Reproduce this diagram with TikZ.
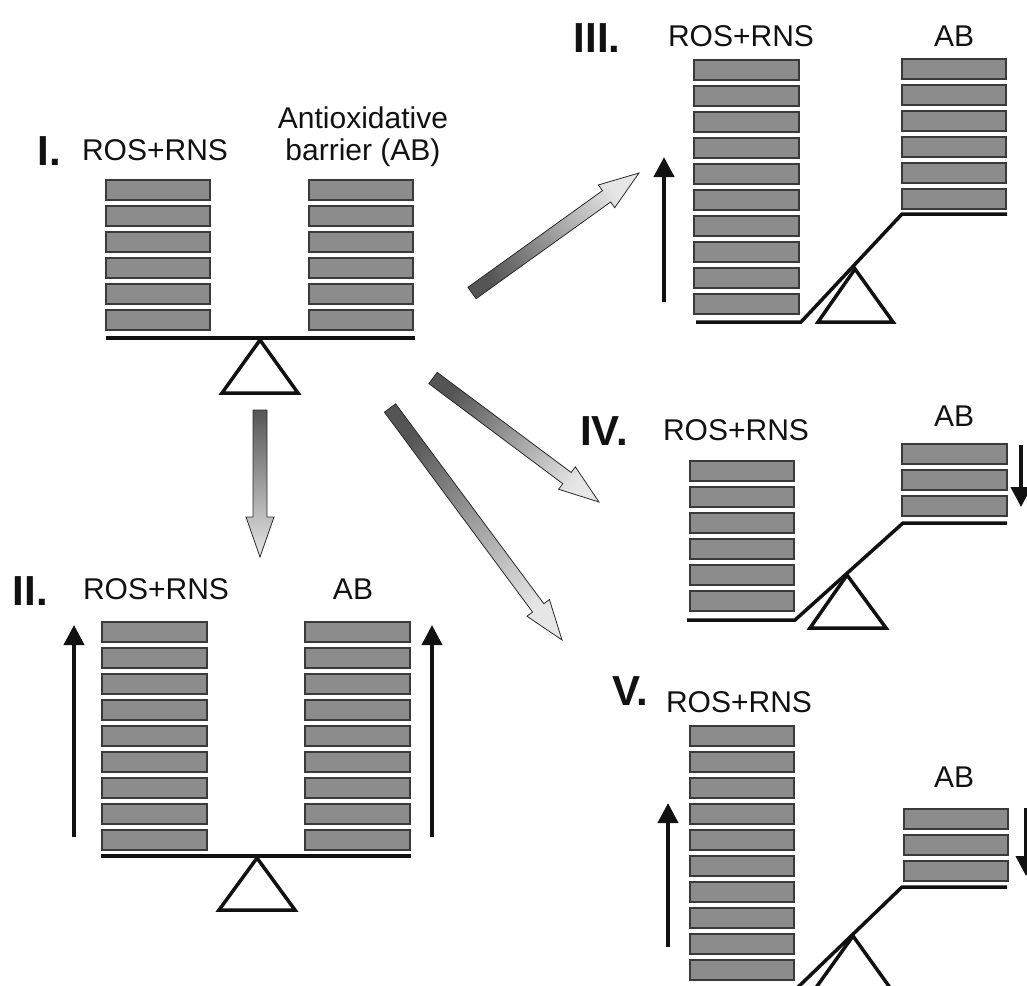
\documentclass[tikz,border=0pt]{standalone}
\usepackage{fontspec}
\setmainfont{Liberation Sans}
\usepackage{xcolor}
\usepackage{tikz}
\usetikzlibrary{arrows.meta, calc}
\definecolor{ink}{HTML}{111111}
\definecolor{barfill}{HTML}{8C8C8C}
\definecolor{barline}{HTML}{3A3A3A}
\definecolor{arrowdark}{HTML}{555555}
\definecolor{arrowlight}{HTML}{E6E6E6}
\definecolor{arrowline}{HTML}{2A2A2A}
\tikzset{
  barbox/.style={fill=barfill, draw=barline, line width=1.2pt},
  beam/.style={draw=ink, line width=3.5pt},
  pivot/.style={draw=ink, line width=3.5pt},
  riseline/.style={draw=ink, line width=4pt, -{Triangle[width=20pt,length=20pt]}},
  lbl/.style={font=\fontsize{30}{36}\selectfont, text=ink, anchor=base, inner sep=0pt},
  numlbl/.style={font=\fontsize{42}{48}\selectfont\bfseries, text=ink, anchor=base, inner sep=0pt},
  blockarrow/.style={draw=arrowline, line width=0.8pt, top color=arrowlight, bottom color=arrowdark, shading angle=#1},
}
\newcommand{\shadedarrow}[3]{%
  \coordinate (neck) at ($(#2)!40pt!(#1)$);
  \path[blockarrow=#3] ($(#1)!7pt!90:(#2)$) -- ($(neck)!7pt!90:(#2)$) -- ($(neck)!14pt!90:(#2)$) -- (#2)
    -- ($(neck)!14pt!-90:(#2)$) -- ($(neck)!7pt!-90:(#2)$) -- ($(#1)!7pt!-90:(#2)$) -- cycle;}

\begin{document}
\begin{tikzpicture}[x=1pt,y=-1pt]
\useasboundingbox (0,0) rectangle (1027,985);
\clip (0,0) rectangle (1027,985);

\node[numlbl, anchor=base east] (numI) at (61,165) {I.};
\node[lbl] (rosI) at (155,160) {ROS+RNS};
\node[lbl] (abIa) at (363,128) {Antioxidative};
\node[lbl] (abIb) at (363,160) {barrier (AB)};
\foreach \k in {0,...,5} {
  \draw[barbox] (106,{180+26*\k}) rectangle ++(104,20);
  \draw[barbox] (309,{180+26*\k}) rectangle ++(104,20);
}
\draw[beam] (106,338) -- (415,338);
\draw[pivot] (260,340) -- (298,393) -- (222,393) -- cycle;

\node[numlbl, anchor=base east] (numII) at (48,605) {II.};
\node[lbl] (rosII) at (156,599) {ROS+RNS};
\node[lbl] (abII) at (353,599) {AB};
\foreach \k in {0,...,8} {
  \draw[barbox] (102,{622+26*\k}) rectangle ++(105,20);
  \draw[barbox] (305,{622+26*\k}) rectangle ++(105,20);
}
\draw[beam] (101,856) -- (411,856);
\draw[pivot] (257,858) -- (295,910) -- (219,910) -- cycle;
\coordinate (upIIa-s) at (74,837);
\coordinate (upIIa-t) at (74,625);
\coordinate (upIIb-s) at (432,837);
\coordinate (upIIb-t) at (432,625);
\draw[riseline] (upIIa-s) -- (upIIa-t);
\draw[riseline] (upIIb-s) -- (upIIb-t);

\node[numlbl] (numIII) at (597,52) {III.};
\node[lbl] (rosIII) at (741,46) {ROS+RNS};
\node[lbl] (abIII) at (954,46) {AB};
\foreach \k in {0,...,9}
  \draw[barbox] (694,{60+26*\k}) rectangle ++(105,20);
\foreach \k in {0,...,5}
  \draw[barbox] (902,{59+26*\k}) rectangle ++(104,20);
\draw[beam] (696,322) -- (801,322) -- (902,214) -- (1007,214);
\draw[pivot] (855,269) -- (893,322) -- (818,322) -- cycle;
\coordinate (upIII-s) at (664,302);
\coordinate (upIII-t) at (664,157);
\draw[riseline] (upIII-s) -- (upIII-t);

\node[numlbl] (numIV) at (604,445) {IV.};
\node[lbl] (rosIV) at (736,440) {ROS+RNS};
\node[lbl] (abIV) at (954,426) {AB};
\foreach \k in {0,...,5}
  \draw[barbox] (690,{461+26*\k}) rectangle ++(104,20);
\foreach \k in {0,...,2}
  \draw[barbox] (902,{444+26*\k}) rectangle ++(105,20);
\draw[beam] (687,620) -- (795,620) -- (903,523) -- (1007,523);
\draw[pivot] (847,575) -- (886,628) -- (810,628) -- cycle;
\coordinate (dnIV-s) at (1021,445);
\coordinate (dnIV-t) at (1021,507);
\draw[riseline] (dnIV-s) -- (dnIV-t);

\node[numlbl] (numV) at (630,705) {V.};
\node[lbl] (rosV) at (739,712) {ROS+RNS};
\node[lbl] (abV) at (954,787) {AB};
\foreach \k in {0,...,9}
  \draw[barbox] (690,{726+26*\k}) rectangle ++(104,20);
\foreach \k in {0,...,2}
  \draw[barbox] (904,{809+26*\k}) rectangle ++(104,20);
\draw[beam] (690,990) -- (795,990) -- (902,887) -- (1007,887);
\draw[pivot] (853,936) -- (891,989) -- (815,989) -- cycle;
\coordinate (upV-s) at (668,947);
\coordinate (upV-t) at (668,803);
\coordinate (dnV-s) at (1026,808);
\coordinate (dnV-t) at (1026,876);
\draw[riseline] (upV-s) -- (upV-t);
\draw[riseline] (dnV-s) -- (dnV-t);

\coordinate (toIII-s) at (472,293);
\coordinate (toIII-t) at (639,173);
\coordinate (toII-s) at (260,410);
\coordinate (toII-t) at (260,557);
\coordinate (toIV-s) at (433,378);
\coordinate (toIV-t) at (599,502);
\coordinate (toV-s) at (390,408);
\coordinate (toV-t) at (562,640);
\shadedarrow{toIII-s}{toIII-t}{-54}
\shadedarrow{toII-s}{toII-t}{-180}
\shadedarrow{toIV-s}{toIV-t}{-127}
\shadedarrow{toV-s}{toV-t}{-143}
\end{tikzpicture}
\end{document}
